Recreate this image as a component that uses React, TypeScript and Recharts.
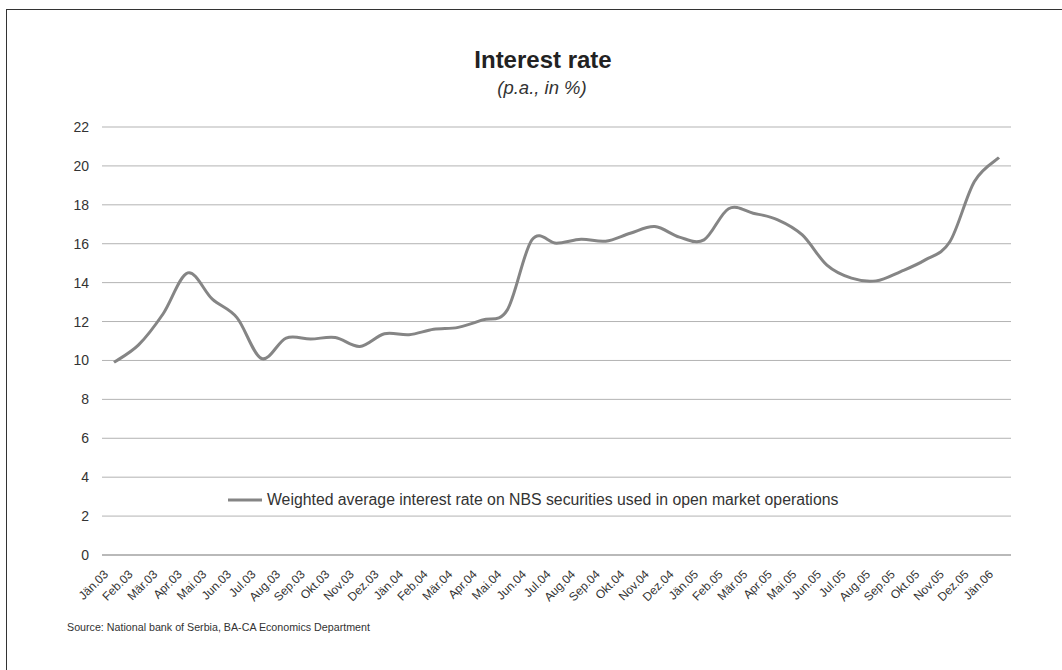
import React from 'react';
import { LineChart, Line, XAxis, YAxis, CartesianGrid, Legend } from 'recharts';

const months: string[] = [
  'Jän.03', 'Feb.03', 'Mär.03', 'Apr.03', 'Mai.03', 'Jun.03', 'Jul.03', 'Aug.03', 'Sep.03', 'Okt.03', 'Nov.03', 'Dez.03',
  'Jän.04', 'Feb.04', 'Mär.04', 'Apr.04', 'Mai.04', 'Jun.04', 'Jul.04', 'Aug.04', 'Sep.04', 'Okt.04', 'Nov.04', 'Dez.04',
  'Jän.05', 'Feb.05', 'Mär.05', 'Apr.05', 'Mai.05', 'Jun.05', 'Jul.05', 'Aug.05', 'Sep.05', 'Okt.05', 'Nov.05', 'Dez.05',
  'Jän.06',
];

const rates: number[] = [
  9.9, 10.8, 12.4, 14.5, 13.15, 12.2, 10.1, 11.15, 11.1, 11.18, 10.72, 11.37,
  11.32, 11.6, 11.7, 12.09, 12.6, 16.2, 16.03, 16.23, 16.13, 16.54, 16.88, 16.34,
  16.2, 17.8, 17.57, 17.23, 16.45, 14.9, 14.23, 14.09, 14.57, 15.17, 16.1, 19.2,
  20.43,
];

const yTicks: number[] = [0, 2, 4, 6, 8, 10, 12, 14, 16, 18, 20, 22];

const seriesName = 'Weighted average interest rate on NBS securities used in open market operations';
const title = 'Interest rate';
const subtitle = '(p.a., in %)';
const source = 'Source: National bank of Serbia, BA-CA Economics Department';

const data = months.map((m, i) => ({ month: m, rate: rates[i] }));

const FONT = '"Liberation Sans", Arial, Helvetica, sans-serif';
const LINE_COLOR = '#858585';

// Excel-like smoothed curve (Catmull-Rom style Bezier through every point)
function excelCurve(context: any) {
  let pts: [number, number][] = [];
  return {
    areaStart() {},
    areaEnd() {},
    lineStart() {
      pts = [];
    },
    lineEnd() {
      if (!pts.length) return;
      context.moveTo(pts[0][0], pts[0][1]);
      for (let i = 0; i < pts.length - 1; i++) {
        const p0 = pts[Math.max(0, i - 1)];
        const p1 = pts[i];
        const p2 = pts[i + 1];
        const p3 = pts[Math.min(pts.length - 1, i + 2)];
        const c1x = p1[0] + (p2[0] - p0[0]) / 6;
        const c1y = p1[1] + (p2[1] - p0[1]) / 6;
        const c2x = p2[0] - (p3[0] - p1[0]) / 6;
        const c2y = p2[1] - (p3[1] - p1[1]) / 6;
        context.bezierCurveTo(c1x, c1y, c2x, c2y, p2[0], p2[1]);
      }
    },
    point(x: number, y: number) {
      pts.push([+x, +y]);
    },
  };
}

const XTick = (props: any) => {
  const { x, y, payload } = props;
  const ax = x - 5;
  const ay = y + 20;
  return (
    <text
      x={ax}
      y={ay}
      transform={`rotate(-45, ${ax}, ${ay})`}
      textAnchor="end"
      fontSize={12}
      fontFamily={FONT}
      fill="#333"
    >
      {payload.value}
    </text>
  );
};

const LegendContent = () => (
  <div style={{ display: 'flex', alignItems: 'center', fontFamily: FONT, fontSize: 15.8, color: '#333', whiteSpace: 'nowrap' }}>
    <svg width={36} height={6} style={{ marginRight: 3 }}>
      <line x1={0} y1={3} x2={34} y2={3} stroke={LINE_COLOR} strokeWidth={3} />
    </svg>
    <span>{seriesName}</span>
  </div>
);

export default function App() {
  return (
    <div style={{ position: 'absolute', left: 0, top: 0, width: 1062, height: 670, background: '#fff', overflow: 'hidden' }}>
      <div style={{ position: 'absolute', left: 6, top: 9, width: 1070, height: 700, borderLeft: '1.5px solid #333', borderTop: '1.5px solid #333' }} />
      <div style={{ position: 'absolute', left: 0, width: 1086, top: 46, textAlign: 'center', fontFamily: FONT, fontWeight: 'bold', fontSize: 24, color: '#222', lineHeight: '28px' }}>
        {title}
      </div>
      <div style={{ position: 'absolute', left: 0, width: 1084, top: 77, textAlign: 'center', fontFamily: FONT, fontStyle: 'italic', fontSize: 18.5, color: '#333', lineHeight: '22px' }}>
        {subtitle}
      </div>
      <div style={{ position: 'absolute', left: 67, top: 621, fontFamily: FONT, fontSize: 10.7, color: '#333', whiteSpace: 'nowrap' }}>
        {source}
      </div>
      <div style={{ position: 'absolute', left: 0, top: 0 }}>
        <LineChart width={1062} height={670} data={data} margin={{ top: 127, right: 51, bottom: 55, left: 62 }}>
          <CartesianGrid vertical={false} stroke="#b3b3b3" strokeWidth={1} />
          <XAxis
            dataKey="month"
            interval={0}
            height={60}
            padding={{ left: 12, right: 12 }}
            tickLine={false}
            tickSize={0}
            tickMargin={0}
            axisLine={{ stroke: '#999', strokeWidth: 1 }}
            tick={<XTick />}
          />
          <YAxis
            domain={[0, 22]}
            ticks={yTicks}
            width={40}
            axisLine={false}
            tickLine={false}
            tickSize={0}
            tickMargin={13}
            tick={{ fontSize: 14, fontFamily: FONT, fill: '#333' }}
            interval={0}
          />
          <Legend
            layout="horizontal"
            verticalAlign="middle"
            align="center"
            content={<LegendContent />}
            wrapperStyle={{ position: 'absolute', left: 228, top: 491, width: 'auto' }}
          />
          <Line
            dataKey="rate"
            name={seriesName}
            type={excelCurve as any}
            stroke={LINE_COLOR}
            strokeWidth={3}
            dot={false}
            activeDot={false}
            isAnimationActive={false}
          />
        </LineChart>
      </div>
    </div>
  );
}
